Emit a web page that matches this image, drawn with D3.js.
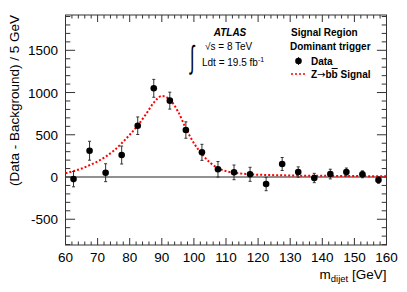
<!DOCTYPE html>
<html>
<head>
<meta charset="utf-8">
<script src="https://cdn.jsdelivr.net/npm/d3@7"></script>
<style>
  body { margin: 0; background: #fff; }
  text { font-family: "Liberation Sans", Arial, sans-serif; }
</style>
</head>
<body>
<div id="chart"></div>
<script>
// bin centres (GeV) and measured data - background
const binCenters = [62.5, 67.5, 72.5, 77.5, 82.5, 87.5, 92.5, 97.5, 102.5, 107.5,
                    112.5, 117.5, 122.5, 127.5, 132.5, 137.5, 142.5, 147.5, 152.5, 157.5];
const dataValues = [-25, 311, 51, 260, 607, 1050, 904, 556, 292, 91,
                    55, 32, -83, 154, 59, -12, 35, 59, 32, -35];
const dataErrors = [91, 112, 106, 106, 104, 106, 100, 97, 95, 92,
                    87, 83, 79, 77, 61, 55, 57, 47, 41, 39];

// Z->bb signal shape
const signalMass = [60, 62.5, 65, 67.5, 70, 72.5, 75, 77.5, 80, 82.5, 85, 87.5, 90,
                    92.5, 95, 97.5, 100, 102.5, 105, 107.5, 110, 112.5, 115, 117.5,
                    120, 125, 130, 140, 150, 160];
const signalValues = [45, 70, 100, 140, 185, 240, 310, 400, 500, 610, 740, 880, 960,
                      915, 780, 575, 400, 272, 172, 104, 70, 52, 40, 32,
                      27, 22, 18, 14, 11, 10];

const xTicks = [60, 70, 80, 90, 100, 110, 120, 130, 140, 150, 160];
const yTicks = [-500, 0, 500, 1000, 1500];

const W = 407, H = 292;
const pL = 65.5, pR = 386.5, pT = 15, pB = 245;

const svg = d3.select('#chart').append('svg').attr('width', W).attr('height', H);

const x = d3.scaleLinear().domain([60, 160]).range([pL, pR]);
const y = d3.scaleLinear().domain([-805, 1918]).range([pB, pT]);

const axisColor = '#333';

// zero line
svg.append('line').attr('x1', pL).attr('x2', pR)
  .attr('y1', y(0)).attr('y2', y(0)).attr('stroke', '#222').attr('stroke-width', 1);

// ticks on all four sides (major + minor)
const xMinor = d3.range(60, 160.1, 2);
const yMinor = d3.range(-800, 1901, 100);
const tickG = svg.append('g').attr('stroke', axisColor).attr('stroke-width', 1);
xMinor.forEach(v => {
  const len = (v % 10 === 0) ? 7 : 3.5;
  tickG.append('line').attr('x1', x(v)).attr('x2', x(v)).attr('y1', pB).attr('y2', pB - len);
  tickG.append('line').attr('x1', x(v)).attr('x2', x(v)).attr('y1', pT).attr('y2', pT + len);
});
yMinor.forEach(v => {
  const len = (v % 500 === 0) ? 9.6 : 4.8;
  tickG.append('line').attr('y1', y(v)).attr('y2', y(v)).attr('x1', pL).attr('x2', pL + len);
  tickG.append('line').attr('y1', y(v)).attr('y2', y(v)).attr('x1', pR).attr('x2', pR - len);
});

// frame
svg.append('rect').attr('x', pL).attr('y', pT)
  .attr('width', pR - pL).attr('height', pB - pT)
  .attr('fill', 'none').attr('stroke', axisColor).attr('stroke-width', 1);

// tick labels
svg.append('g').selectAll('text').data(xTicks).join('text')
  .attr('x', d => x(d)).attr('y', 262)
  .attr('text-anchor', 'middle').attr('font-size', 13.5).attr('fill', '#000')
  .text(d => d);
svg.append('g').selectAll('text').data(yTicks).join('text')
  .attr('x', 58).attr('y', d => y(d) + 5)
  .attr('text-anchor', 'end').attr('font-size', 13.5).attr('fill', '#000')
  .text(d => d);

// axis titles
const xt = svg.append('text').attr('x', pR).attr('y', 279)
  .attr('text-anchor', 'end').attr('font-size', 13.5);
xt.append('tspan').text('m');
xt.append('tspan').attr('font-size', 9.5).attr('dy', 3).text('dijet');
xt.append('tspan').attr('dy', -3).text(' [GeV]');

svg.append('text').attr('transform', `translate(19, ${pT}) rotate(-90)`)
  .attr('text-anchor', 'end').attr('font-size', 13.5)
  .text('(Data - Background) / 5 GeV');

// signal curve
const line = d3.line().x(d => x(d[0])).y(d => y(d[1])).curve(d3.curveMonotoneX);
svg.append('path').datum(d3.zip(signalMass, signalValues))
  .attr('d', line).attr('fill', 'none')
  .attr('stroke', '#ff0000').attr('stroke-width', 2).attr('stroke-dasharray', '2,2');

// data points with error bars
const pts = d3.zip(binCenters, dataValues, dataErrors);
const dg = svg.append('g');
dg.selectAll('line.err').data(pts).join('line').attr('class', 'err')
  .attr('x1', d => x(d[0])).attr('x2', d => x(d[0]))
  .attr('y1', d => y(d[1] - d[2])).attr('y2', d => y(d[1] + d[2]))
  .attr('stroke', '#333').attr('stroke-width', 1);
dg.selectAll('line.capt').data(pts).join('line').attr('class', 'capt')
  .attr('x1', d => x(d[0]) - 1.5).attr('x2', d => x(d[0]) + 1.5)
  .attr('y1', d => y(d[1] + d[2])).attr('y2', d => y(d[1] + d[2]))
  .attr('stroke', '#333').attr('stroke-width', 1);
dg.selectAll('line.capb').data(pts).join('line').attr('class', 'capb')
  .attr('x1', d => x(d[0]) - 1.5).attr('x2', d => x(d[0]) + 1.5)
  .attr('y1', d => y(d[1] - d[2])).attr('y2', d => y(d[1] - d[2]))
  .attr('stroke', '#333').attr('stroke-width', 1);
dg.selectAll('circle').data(pts).join('circle')
  .attr('cx', d => x(d[0])).attr('cy', d => y(d[1])).attr('r', 3.3).attr('fill', '#000');

// ATLAS label
svg.append('text').attr('x', 230).attr('y', 36).attr('text-anchor', 'middle')
  .attr('font-size', 10).attr('font-weight', 'bold').attr('font-style', 'italic').text('ATLAS');
svg.append('text').attr('x', 205).attr('y', 49.5).attr('font-size', 10).text('√s = 8 TeV');
svg.append('text').attr('transform', 'translate(190, 68) scale(0.5, 1)').attr('font-size', 32)
  .attr('font-family', '"DejaVu Sans", sans-serif').attr('font-weight', 'normal').text('∫');
const lumi = svg.append('text').attr('x', 202).attr('y', 66).attr('font-size', 10);
lumi.append('tspan').text('Ldt = 19.5 fb');
lumi.append('tspan').attr('font-size', 7).attr('dy', -4).text('-1');

// legend
svg.append('text').attr('x', 291).attr('y', 36).attr('font-size', 10).attr('font-weight', 'bold').text('Signal Region');
svg.append('text').attr('x', 290).attr('y', 50).attr('font-size', 10).attr('font-weight', 'bold').text('Dominant trigger');
svg.append('line').attr('x1', 298.5).attr('x2', 298.5).attr('y1', 57).attr('y2', 65).attr('stroke', '#333');
svg.append('circle').attr('cx', 298.5).attr('cy', 61).attr('r', 3.3).attr('fill', '#000');
svg.append('text').attr('x', 311).attr('y', 64.5).attr('font-size', 10).attr('font-weight', 'bold').text('Data');
svg.append('line').attr('x1', 291).attr('x2', 306).attr('y1', 74).attr('y2', 74)
  .attr('stroke', '#ff0000').attr('stroke-width', 1.5).attr('stroke-dasharray', '2,2');
const sig = svg.append('text').attr('x', 311).attr('y', 78).attr('font-size', 10).attr('font-weight', 'bold');
sig.append('tspan').text('Z');
sig.append('tspan').attr('font-family', '"DejaVu Sans", sans-serif').attr('font-weight', 'normal').text('→');
sig.append('tspan').text('b');
sig.append('tspan').style('text-decoration', 'overline').text('b');
sig.append('tspan').text(' Signal');
</script>
</body>
</html>
